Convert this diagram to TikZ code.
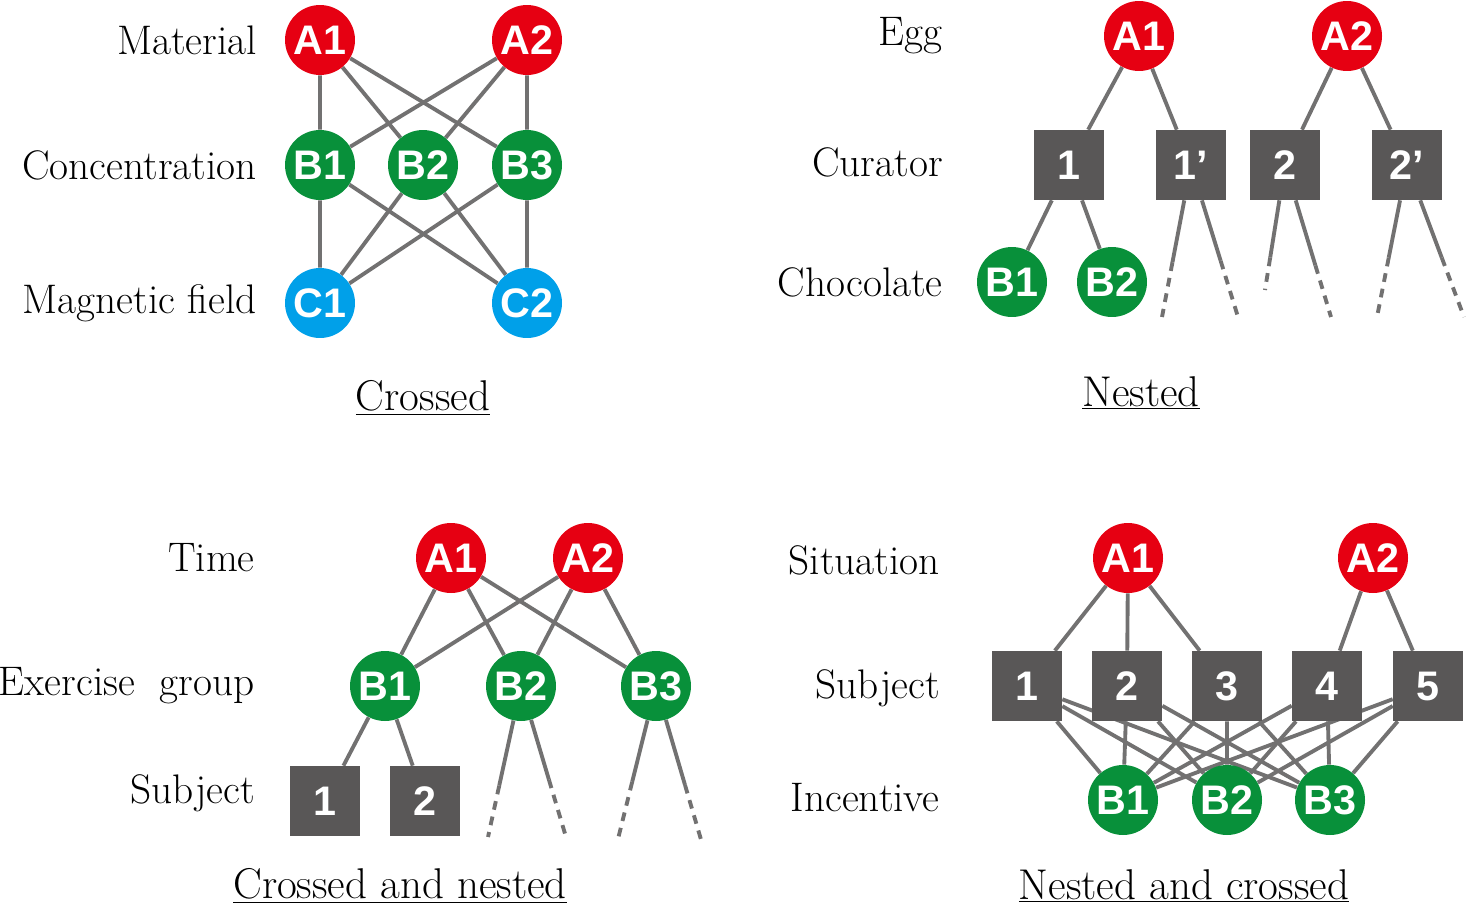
\documentclass[tikz,border=0pt]{standalone}
\usepackage{fontspec}
\newfontfamily\labelfont{Liberation Sans}
\usetikzlibrary{positioning,calc,backgrounds}
\definecolor{factred}{HTML}{E60012}
\definecolor{factgreen}{HTML}{08903A}
\definecolor{factblue}{HTML}{00A0E9}
\definecolor{unitgray}{HTML}{595757}
\definecolor{linegray}{HTML}{727171}
\tikzset{
    every node/.style={inner sep=0pt}
}

\begin{document}
\begin{tikzpicture}[
  x=0.02cm, y=-0.02cm,
  factor/.style={circle, minimum size=1.4cm, text=white, font=\labelfont\bfseries\fontsize{23.5}{24}\selectfont},
  levA/.style={factor, fill=factred},
  levB/.style={factor, fill=factgreen},
  levC/.style={factor, fill=factblue},
  unit/.style={rectangle, fill=unitgray, minimum size=1.4cm, text=white, font=\labelfont\bfseries\fontsize{23.5}{24}\selectfont},
  level/.style={anchor=east, font=\fontsize{23.5}{28}\selectfont},
  caption/.style={font=\fontsize{24.5}{29}\selectfont},
  edge/.style={draw=linegray, line width=2.2pt},
  tail/.style={edge, dash pattern=on 5pt off 4pt}
]
  \useasboundingbox (0,0) rectangle (1466,916);

  % Crossed
  \node[level] (matL) at (257,40)  {Material};
  \node[level] (conL) at (257,165) {Concentration};
  \node[level] (magL) at (257,303) {Magnetic field};
  \node[levA] (crA1) at (320,40)  {A1};
  \node[levA] (crA2) at (527,40)  {A2};
  \node[levB] (crB1) at (320,165) {B1};
  \node[levB] (crB2) at (423,165) {B2};
  \node[levB] (crB3) at (527,165) {B3};
  \node[levC] (crC1) at (320,303) {C1};
  \node[levC] (crC2) at (527,303) {C2};
  \node[caption] (crCap) at (423,398) {\underline{Crossed}};

  % Nested
  \node[level] (eggL) at (943,36)  {Egg};
  \node[level] (curL) at (943,162) {Curator};
  \node[level] (choL) at (943,282) {Chocolate};
  \node[levA] (nsA1) at (1139,36) {A1};
  \node[levA] (nsA2) at (1347,36) {A2};
  \node[unit] (ns1)  at (1069,165) {1};
  \node[unit] (ns1p) at (1191,165) {1’};
  \node[unit] (ns2)  at (1285,165) {2};
  \node[unit] (ns2p) at (1407,165) {2’};
  \node[levB] (nsB1) at (1012,282) {B1};
  \node[levB] (nsB2) at (1112,282) {B2};
  \coordinate (t1l) at (1162,317);
  \coordinate (t1r) at (1238,317);
  \coordinate (t2l) at (1265,290);
  \coordinate (t2r) at (1331,317);
  \coordinate (t3l) at (1377,317);
  \coordinate (t3r) at (1464,317);
  \node[caption] (nsCap) at (1141,393) {\underline{Nested}};

  % Crossed and nested
  \node[level] (timL) at (255,558) {Time};
  \node[level] (exeL) at (255,686) {Exercise\ \ group};
  \node[level] (subL) at (255,793) {Subject};
  \node[levA] (cnA1) at (451,558) {A1};
  \node[levA] (cnA2) at (588,558) {A2};
  \node[levB] (cnB1) at (385,686) {B1};
  \node[levB] (cnB2) at (521,686) {B2};
  \node[levB] (cnB3) at (656,686) {B3};
  \node[unit] (cn1) at (325,801) {1};
  \node[unit] (cn2) at (425,801) {2};
  \coordinate (u2l) at (488,837);
  \coordinate (u2r) at (566,837);
  \coordinate (u3l) at (617,843);
  \coordinate (u3r) at (702,843);
  \node[caption] (cnCap) at (400,886) {\underline{Crossed and nested}};

  % Nested and crossed
  \node[level] (sitL) at (940,560) {Situation};
  \node[level] (sbjL) at (940,688) {Subject};
  \node[level] (incL) at (940,798) {Incentive};
  \node[levA] (ncA1) at (1128,558) {A1};
  \node[levA] (ncA2) at (1373,558) {A2};
  \node[unit] (nc1) at (1027,686) {1};
  \node[unit] (nc2) at (1127,686) {2};
  \node[unit] (nc3) at (1227,686) {3};
  \node[unit] (nc4) at (1327,686) {4};
  \node[unit] (nc5) at (1428,686) {5};
  \node[levB] (ncB1) at (1123,800) {B1};
  \node[levB] (ncB2) at (1227,800) {B2};
  \node[levB] (ncB3) at (1330,800) {B3};
  \node[caption] (ncCap) at (1184,886) {\underline{Nested and crossed}};

  \begin{scope}[on background layer]
    % Crossed links
    \draw[edge] (crA1) -- (crB1) (crA1) -- (crB2) (crA1) -- (crB3);
    \draw[edge] (crA2) -- (crB1) (crA2) -- (crB2) (crA2) -- (crB3);
    \draw[edge] (crB1) -- (crC1) (crB1) -- (crC2);
    \draw[edge] (crB2) -- (crC1) (crB2) -- (crC2);
    \draw[edge] (crB3) -- (crC1) (crB3) -- (crC2);

    % Nested links
    \draw[edge] (nsA1) -- (ns1) (nsA1) -- (ns1p);
    \draw[edge] (nsA2) -- (ns2) (nsA2) -- (ns2p);
    \draw[edge] (ns1) -- (nsB1) (ns1) -- (nsB2);
    \draw[edge] (ns1p) -- ($(ns1p)!0.64!(t1l)$);
    \draw[tail] ($(ns1p)!0.64!(t1l)$) -- (t1l);
    \draw[edge] (ns1p) -- ($(ns1p)!0.63!(t1r)$);
    \draw[tail] ($(ns1p)!0.63!(t1r)$) -- (t1r);
    \draw[edge] (ns2) -- ($(ns2)!0.74!(t2l)$);
    \draw[tail] ($(ns2)!0.74!(t2l)$) -- (t2l);
    \draw[edge] (ns2) -- ($(ns2)!0.66!(t2r)$);
    \draw[tail] ($(ns2)!0.66!(t2r)$) -- (t2r);
    \draw[edge] (ns2p) -- ($(ns2p)!0.61!(t3l)$);
    \draw[tail] ($(ns2p)!0.61!(t3l)$) -- (t3l);
    \draw[edge] (ns2p) -- ($(ns2p)!0.61!(t3r)$);
    \draw[tail] ($(ns2p)!0.61!(t3r)$) -- (t3r);

    % Crossed and nested links
    \draw[edge] (cnA1) -- (cnB1) (cnA1) -- (cnB2) (cnA1) -- (cnB3);
    \draw[edge] (cnA2) -- (cnB1) (cnA2) -- (cnB2) (cnA2) -- (cnB3);
    \draw[edge] (cnB1) -- (cn1) (cnB1) -- (cn2);
    \draw[edge] (cnB2) -- ($(cnB2)!0.66!(u2l)$);
    \draw[tail] ($(cnB2)!0.66!(u2l)$) -- (u2l);
    \draw[edge] (cnB2) -- ($(cnB2)!0.62!(u2r)$);
    \draw[tail] ($(cnB2)!0.62!(u2r)$) -- (u2r);
    \draw[edge] (cnB3) -- ($(cnB3)!0.61!(u3l)$);
    \draw[tail] ($(cnB3)!0.61!(u3l)$) -- (u3l);
    \draw[edge] (cnB3) -- ($(cnB3)!0.63!(u3r)$);
    \draw[tail] ($(cnB3)!0.63!(u3r)$) -- (u3r);

    % Nested and crossed links
    \draw[edge] (ncA1) -- (nc1) (ncA1) -- (nc2) (ncA1) -- (nc3);
    \draw[edge] (ncA2) -- (nc4) (ncA2) -- (nc5);
    \draw[edge] (nc1) -- (ncB1) (nc1) -- (ncB2) (nc1) -- (ncB3);
    \draw[edge] (nc2) -- (ncB1) (nc2) -- (ncB2) (nc2) -- (ncB3);
    \draw[edge] (nc3) -- (ncB1) (nc3) -- (ncB2) (nc3) -- (ncB3);
    \draw[edge] (nc4) -- (ncB1) (nc4) -- (ncB2) (nc4) -- (ncB3);
    \draw[edge] (nc5) -- (ncB1) (nc5) -- (ncB2) (nc5) -- (ncB3);
  \end{scope}
\end{tikzpicture}
\end{document}
